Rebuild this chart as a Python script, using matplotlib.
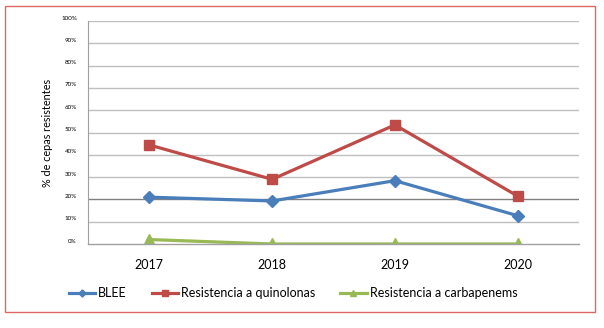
import matplotlib.pyplot as plt
import matplotlib.transforms as mtransforms
from matplotlib.patches import Rectangle
import numpy as np

years = ['2017', '2018', '2019', '2020']
blee = [21.0, 19.3, 28.4, 12.7]
quinolonas = [44.4, 29.0, 53.4, 21.5]
carbapenems = [2.0, 0.0, 0.0, 0.0]
y_ticks = list(range(0, 101, 10))

plt.rcParams['font.family'] = ['Lato', 'DejaVu Sans']

fig = plt.figure(figsize=(6.04, 3.28), dpi=100)
ax = fig.add_axes([88 / 604, 1 - 244 / 328, 491 / 604, 223 / 328])

x = np.arange(len(years))
ax.plot(x, blee, color='#4A7EBB', lw=2.3, marker='D', ms=6, label='BLEE')
ax.plot(x, quinolonas, color='#BE4B48', lw=2.3, marker='s', ms=7.5,
        label='Resistencia a quinolonas')
ax.plot(x, carbapenems, color='#98B954', lw=2.3, marker='^', ms=8,
        label='Resistencia a carbapenems')

ax.set_xlim(-0.5, len(years) - 0.5)
ax.set_ylim(0, 100)
ax.set_xticks(x)
ax.set_xticklabels(years, fontsize=9)
ax.set_yticks(y_ticks)
ax.set_yticklabels([f'{v}%' for v in y_ticks], fontsize=4.5)
ax.tick_params(length=0)
ax.tick_params(axis='x', pad=11)
ax.tick_params(axis='y', pad=8)
offset = mtransforms.ScaledTranslation(0, 2.5 / 72, fig.dpi_scale_trans)
for lab in ax.get_yticklabels():
    lab.set_transform(lab.get_transform() + offset)

for v in y_ticks[1:]:
    c = '#808080' if v == 20 else '#BFBFBF'
    ax.axhline(v, color=c, lw=1.0, zorder=0)

for s in ['top', 'right']:
    ax.spines[s].set_visible(False)
ax.spines['left'].set_color('#A0A0A0')
ax.spines['bottom'].set_color('#A0A0A0')
ax.spines['left'].set_linewidth(0.8)
ax.spines['bottom'].set_linewidth(1.0)

ax.set_ylabel('% de cepas resistentes', fontsize=7.8)
ax.yaxis.set_label_coords(-0.071, 0.5)

ax.legend(loc='center', bbox_to_anchor=(293 / 604, 1 - 293 / 328),
          bbox_transform=fig.transFigure, ncol=3, frameon=False,
          fontsize=9, handlelength=2.1, columnspacing=2.0, handletextpad=0.25,
          markerscale=0.6)

fig.patches.append(Rectangle((5 / 604, 1 - 312 / 328), 590 / 604, 306 / 328,
                             transform=fig.transFigure, fill=False,
                             edgecolor='#E06666', lw=1.0))

plt.savefig('out.png', dpi=100)
